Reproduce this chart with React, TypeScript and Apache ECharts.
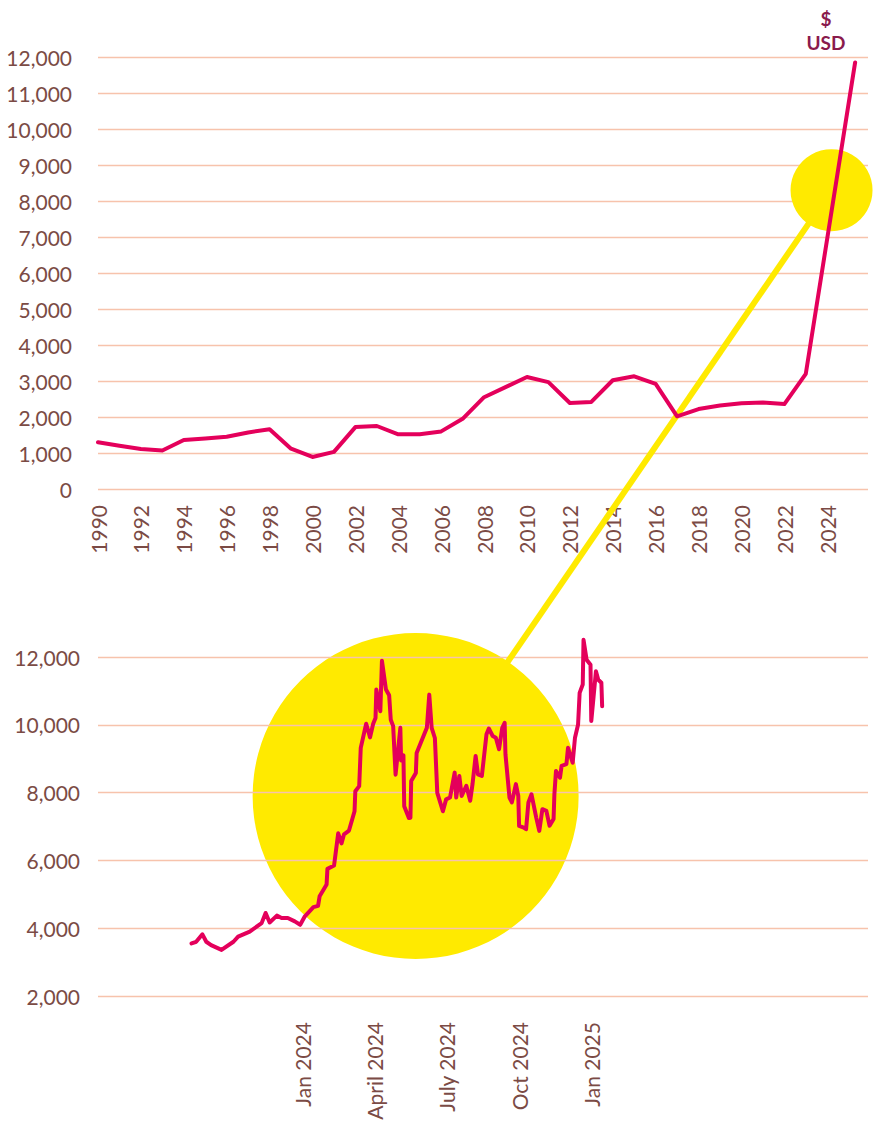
import React, { useEffect, useRef } from "react";
import * as echarts from "echarts";

// ---- Annual price (USD per tonne) ----
const annualYears = [
  1990, 1991, 1992, 1993, 1994, 1995, 1996, 1997, 1998, 1999,
  2000, 2001, 2002, 2003, 2004, 2005, 2006, 2007, 2008, 2009,
  2010, 2011, 2012, 2013, 2014, 2015, 2016, 2017, 2018, 2019,
  2020, 2021, 2022, 2023, 2025.3,
];
const annualPrices = [
  1300, 1200, 1110, 1070, 1360, 1400, 1450, 1570, 1660, 1120,
  890, 1030, 1720, 1750, 1520, 1520, 1600, 1950, 2550, 2830,
  3110, 2970, 2390, 2420, 3020, 3130, 2920, 2020, 2220, 2320,
  2380, 2400, 2360, 3200, 11850,
];

// ---- Recent prices (zoomed view) ----
const recentDates = [
  "2023-08-13", "2023-08-19", "2023-08-27", "2023-09-01", "2023-09-07", "2023-09-20",
  "2023-10-05", "2023-10-11", "2023-10-26", "2023-11-10", "2023-11-15", "2023-11-20",
  "2023-11-29", "2023-12-05", "2023-12-13", "2023-12-22", "2023-12-29", "2024-01-04",
  "2024-01-15", "2024-01-21", "2024-01-23", "2024-02-01", "2024-02-02", "2024-02-10",
  "2024-02-15", "2024-02-19", "2024-02-22", "2024-02-28", "2024-03-06", "2024-03-07",
  "2024-03-12", "2024-03-14", "2024-03-21", "2024-03-26", "2024-03-30", "2024-04-02",
  "2024-04-03", "2024-04-08", "2024-04-10", "2024-04-15", "2024-04-19", "2024-04-21",
  "2024-04-24", "2024-04-27", "2024-05-03", "2024-05-04", "2024-05-07", "2024-05-08",
  "2024-05-14", "2024-05-16", "2024-05-17", "2024-05-23", "2024-05-24", "2024-06-06",
  "2024-06-09", "2024-06-12", "2024-06-16", "2024-06-19", "2024-06-26", "2024-06-30",
  "2024-07-05", "2024-07-11", "2024-07-13", "2024-07-17", "2024-07-20", "2024-07-23",
  "2024-07-26", "2024-07-31", "2024-08-03", "2024-08-07", "2024-08-10", "2024-08-15",
  "2024-08-21", "2024-08-24", "2024-08-29", "2024-09-02", "2024-09-06", "2024-09-10",
  "2024-09-13", "2024-09-14", "2024-09-19", "2024-09-22", "2024-09-27", "2024-09-30",
  "2024-10-01", "2024-10-07", "2024-10-10", "2024-10-13", "2024-10-17", "2024-10-23",
  "2024-10-27", "2024-10-31", "2024-11-05", "2024-11-09", "2024-11-14", "2024-11-15",
  "2024-11-17", "2024-11-22", "2024-11-24", "2024-11-30", "2024-12-02", "2024-12-08",
  "2024-12-11", "2024-12-15", "2024-12-17", "2024-12-21", "2024-12-22", "2024-12-26",
  "2024-12-31", "2025-01-01", "2025-01-04", "2025-01-07", "2025-01-10", "2025-01-14",
  "2025-01-15",
];
const recentPrices = [
  3550, 3600, 3820, 3600, 3500, 3360,
  3600, 3750, 3900, 4150, 4450, 4170,
  4370, 4300, 4300, 4200, 4100, 4350,
  4620, 4660, 4940, 5290, 5750, 5850,
  6800, 6500, 6770, 6880, 7450, 8040,
  8190, 9320, 10030, 9630, 10030, 10200,
  11040, 10400, 11890, 11040, 10870, 10150,
  9960, 8530, 9910, 8950, 9100, 7600,
  7250, 7260, 8340, 8580, 9170, 9910,
  10890, 9910, 9610, 7990, 7450, 7800,
  7855, 8590, 7855, 8490, 7900, 8050,
  8200, 7760, 8250, 9080, 8540, 8490,
  9720, 9890, 9670, 9620, 9280, 9910,
  10060, 9130, 7855, 7710, 8250, 7900,
  7020, 6970, 6920, 7710, 7950, 7270,
  6870, 7510, 7460, 7020, 7220, 7950,
  8640, 8440, 8790, 8840, 9320, 8880,
  9620, 10010, 10940, 11190, 12510, 11920,
  11770, 10110, 10840, 11580, 11330, 11240,
  10550,
];

// ---- Axis labels ----
const quarterMonths = [0, 3, 6, 9, 12]; // months since Jan 2024
const quarterLabels = ["Jan 2024", "April 2024", "July 2024", "Oct 2024", "Jan 2025"];
const lastYearLabel = 2024;

// Highlight circles (data coordinates)
const annualHighlight = [2024.2, 8300];
const recentHighlight = [4.7, 7900];

const TEXT = "#7B4B45";
const GRID = "#F7C3AC";
const RED = "#E4005B";
const YELLOW = "#FFEA00";
const FONT = "Lato";

function monthIndex(d: string): number {
  const [y, m, dd] = d.split("-").map(Number);
  const dim = new Date(y, m, 0).getDate();
  return (y - 2024) * 12 + (m - 1) + (dd - 1) / dim;
}

export default function App() {
  const ref = useRef<HTMLDivElement>(null);

  useEffect(() => {
    if (!ref.current) return;
    const chart = echarts.init(ref.current, null, { renderer: "svg" });

    const annualData = annualYears.map((y, i) => [y, annualPrices[i]]);
    const recentData = recentDates.map((d, i) => [monthIndex(d), recentPrices[i]]);

    chart.setOption({
      animation: false,
      backgroundColor: "#ffffff",
      grid: [
        { left: 98, right: 15, top: 57, height: 432 },
        { left: 98, right: 15, top: 657, height: 339 },
      ],
      xAxis: [
        {
          gridIndex: 0,
          type: "value",
          min: 1990,
          max: 2025.9,
          interval: 2,
          axisLine: { show: false },
          axisTick: { show: false },
          splitLine: { show: false },
          axisLabel: {
            rotate: 90,
            margin: 16,
            color: TEXT,
            fontFamily: FONT,
            fontSize: 21,
            formatter: (v: number) => (v <= lastYearLabel ? String(v) : ""),
          },
        },
        {
          gridIndex: 1,
          type: "value",
          min: -8.5,
          max: 23.5,
          axisLine: { show: false },
          axisTick: { show: false },
          splitLine: { show: false },
          axisLabel: {
            customValues: quarterMonths,
            rotate: 90,
            margin: 26,
            color: TEXT,
            fontFamily: FONT,
            fontSize: 21,
            formatter: (v: number) => {
              const i = quarterMonths.indexOf(Math.round(v));
              return i >= 0 ? quarterLabels[i] : "";
            },
          },
        },
      ],
      yAxis: [
        {
          gridIndex: 0,
          type: "value",
          min: 0,
          max: 12000,
          interval: 1000,
          axisLine: { show: false },
          axisTick: { show: false },
          splitLine: { show: true, lineStyle: { color: GRID, width: 1.3 } },
          axisLabel: {
            margin: 26,
            color: TEXT,
            fontFamily: FONT,
            fontSize: 21,
            formatter: (v: number) => v.toLocaleString("en-US"),
          },
        },
        {
          gridIndex: 1,
          type: "value",
          min: 2000,
          max: 12000,
          interval: 2000,
          axisLine: { show: false },
          axisTick: { show: false },
          splitLine: { show: true, lineStyle: { color: GRID, width: 1.3 } },
          axisLabel: {
            margin: 18,
            color: TEXT,
            fontFamily: FONT,
            fontSize: 21,
            formatter: (v: number) => v.toLocaleString("en-US"),
          },
        },
      ],
      series: [
        {
          type: "line",
          xAxisIndex: 0,
          yAxisIndex: 0,
          data: annualData,
          showSymbol: false,
          clip: false,
          z: 5,
          lineStyle: { color: RED, width: 4, cap: "round", join: "round" },
        },
        {
          type: "line",
          xAxisIndex: 1,
          yAxisIndex: 1,
          data: recentData,
          showSymbol: false,
          clip: false,
          z: 5,
          lineStyle: { color: RED, width: 4, cap: "round", join: "round" },
        },
      ],
    });

    const p1 = chart.convertToPixel({ gridIndex: 0 }, annualHighlight) as number[];
    const p2 = chart.convertToPixel({ gridIndex: 1 }, recentHighlight) as number[];
    const r1 = 41;
    const r2 = 163;
    const dx = p1[0] - p2[0];
    const dy = p1[1] - p2[1];
    const len = Math.sqrt(dx * dx + dy * dy);
    const ux = dx / len;
    const uy = dy / len;
    const lineStart = [p1[0] - ux * (r1 - 2), p1[1] - uy * (r1 - 2)];
    const lineEnd = [p2[0] + ux * (r2 - 2), p2[1] + uy * (r2 - 2)];

    chart.setOption({
      graphic: [
        {
          type: "circle",
          z: -1,
          shape: { cx: p2[0], cy: p2[1], r: r2 },
          style: { fill: YELLOW },
        },
        {
          type: "line",
          z: 1,
          shape: { x1: lineStart[0], y1: lineStart[1], x2: lineEnd[0], y2: lineEnd[1] },
          style: { stroke: YELLOW, lineWidth: 6 },
        },
        {
          type: "circle",
          z: 1,
          shape: { cx: p1[0], cy: p1[1], r: r1 },
          style: { fill: YELLOW },
        },
        {
          type: "text",
          z: 10,
          x: 826,
          y: 18,
          style: {
            text: "$",
            fill: "#8A1B4C",
            font: `bold 19px ${FONT}`,
            align: "center",
            verticalAlign: "middle",
          },
        },
        {
          type: "text",
          z: 10,
          x: 826,
          y: 42,
          style: {
            text: "USD",
            fill: "#8A1B4C",
            font: `bold 19px ${FONT}`,
            align: "center",
            verticalAlign: "middle",
          },
        },
      ],
    });

    return () => chart.dispose();
  }, []);

  return (
    <div
      ref={ref}
      style={{ position: "absolute", left: 0, top: 0, width: 883, height: 1126 }}
    />
  );
}
